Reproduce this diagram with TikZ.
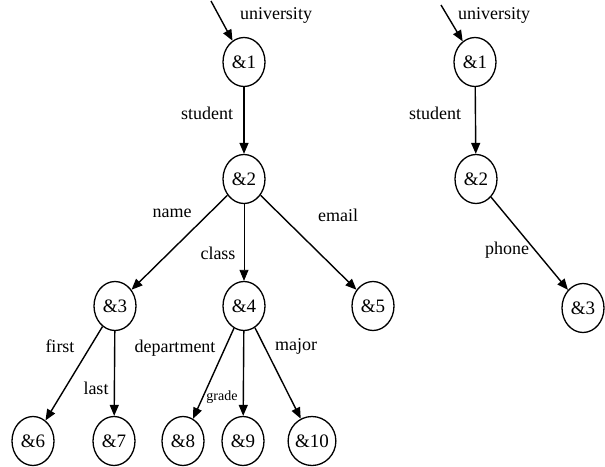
\documentclass[tikz,border=0pt]{standalone}
\usepackage{fontspec}
\setmainfont{Liberation Serif}
\usetikzlibrary{shapes.geometric,arrows.meta}
\begin{document}
\begin{tikzpicture}[x=1pt,y=-1pt,
  obj/.style={draw,ellipse,line width=1.3pt,minimum width=42pt,minimum height=49pt,inner sep=0pt,font=\fontsize{19}{21}\selectfont},
  lbl/.style={inner sep=0pt,font=\fontsize{18}{20}\selectfont},
  small/.style={inner sep=0pt,font=\fontsize{14}{16}\selectfont},
  edge/.style={line width=1.4pt,-{Triangle[length=11pt,width=9pt]}},
  thinedge/.style={line width=0.8pt,-{Triangle[length=11pt,width=9pt]}}]
\useasboundingbox (0,0) rectangle (605,466);
% left tree
\node[obj] (L1) at (244,62) {\&1};
\node[obj] (L2) at (244,179) {\&2};
\node[obj] (L3) at (115,306) {\&3};
\node[obj] (L4) at (244,306) {\&4};
\node[obj] (L5) at (373,306) {\&5};
\node[obj] (L6) at (33,441) {\&6};
\node[obj] (L7) at (114,441) {\&7};
\node[obj] (L8) at (183,441) {\&8};
\node[obj] (L9) at (243,441) {\&9};
\node[obj] (L10) at (312,441) {\&10};
\coordinate (Lin) at (211,1);
\draw[edge] (Lin) -- (L1);
\draw[edge] (L1) -- (L2);
\draw[edge] (L2) -- (L3);
\draw[thinedge] (L2) -- (L4);
\draw[edge] (L2) -- (L5);
\draw[edge] (L3) -- (L6);
\draw[edge] (L3) -- (L7);
\draw[edge] (L4) -- (L8);
\draw[edge] (L4) -- (L9);
\draw[edge] (L4) -- (L10);
\node[lbl] (tuniL) at (276,15) {university};
\node[lbl] (tstuL) at (207,113) {student};
\node[lbl] (tname) at (172,213) {name};
\node[lbl] (tclass) at (218,253) {class};
\node[lbl] (temail) at (338,215) {email};
\node[lbl] (tfirst) at (60,346) {first};
\node[lbl] (tlast) at (96,388) {last};
\node[lbl] (tdept) at (175,348) {department};
\node[small] (tgrade) at (222,397) {grade};
\node[lbl] (tmajor) at (296,346) {major};
% right tree
\node[obj] (R1) at (475,62) {\&1};
\node[obj] (R2) at (476,179) {\&2};
\node[obj] (R3) at (583,308) {\&3};
\coordinate (Rin) at (441,5);
\draw[edge] (Rin) -- (R1);
\draw[edge] (R1) -- (R2);
\draw[edge] (R2) -- (R3);
\node[lbl] (tuniR) at (494,15) {university};
\node[lbl] (tstuR) at (435,113) {student};
\node[lbl] (tphone) at (507,250) {phone};
\end{tikzpicture}
\end{document}
